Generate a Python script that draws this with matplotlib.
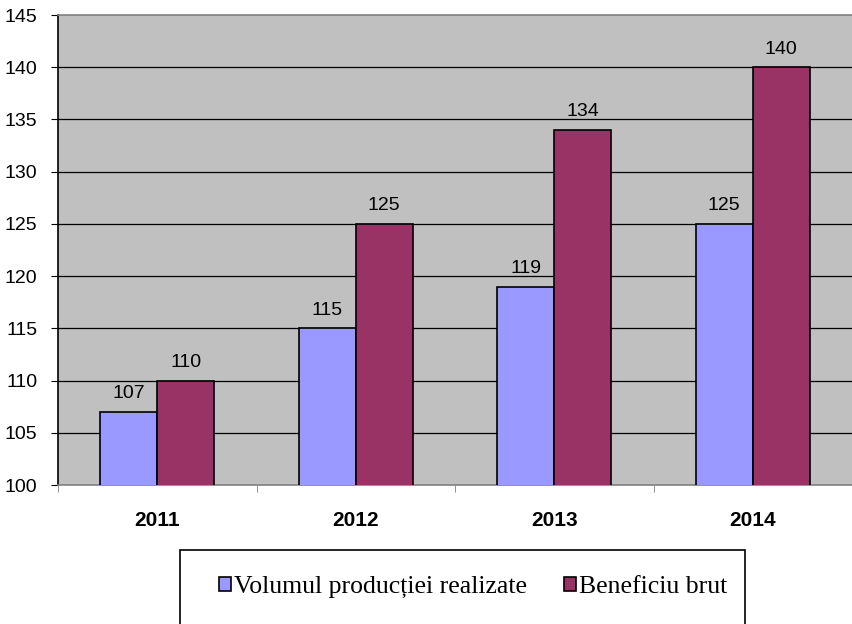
import numpy as np
import matplotlib
matplotlib.use("Agg")
import matplotlib.pyplot as plt
from matplotlib.patches import Rectangle

years = ["2011", "2012", "2013", "2014"]
volum = [107, 115, 119, 125]
beneficiu = [110, 125, 134, 140]
series_names = ["Volumul producției realizate", "Beneficiu brut"]
yticks = list(range(100, 150, 5))

fig = plt.figure(figsize=(8.52, 6.24), dpi=100)
ax = fig.add_axes([58 / 852, 1 - 485 / 624, (852 - 58) / 852, (485 - 15) / 624])
ax.set_facecolor("#C0C0C0")

x = np.arange(len(years))
w = 0.287
b1 = ax.bar(x - w / 2, volum, w, bottom=0, color="#9999FF", edgecolor="black", linewidth=1.2, zorder=3)
b2 = ax.bar(x + w / 2, beneficiu, w, bottom=0, color="#993366", edgecolor="black", linewidth=1.2, zorder=3)

for bars, vals in ((b1, volum), (b2, beneficiu)):
    for r, v in zip(bars, vals):
        ax.annotate(str(v), (r.get_x() + r.get_width() / 2, v), xytext=(0, 7),
                    textcoords="offset points", ha="center", va="bottom",
                    fontsize=14, family="Liberation Sans")

ax.set_ylim(100, 145)
ax.set_xlim(-0.5, 3.5)
ax.set_yticks(yticks)
ax.set_yticklabels([str(t) for t in yticks], family="Liberation Sans", fontsize=14)
for t in yticks[1:-1]:
    ax.axhline(t, color="black", linewidth=0.9, zorder=1)

ax.set_xticks(x)
ax.set_xticklabels(years, family="Liberation Sans", fontsize=15, fontweight="bold")
ax.tick_params(axis="x", which="major", length=0, pad=19)
ax.set_xticks(np.arange(-0.5, 4, 1), minor=True)
ax.tick_params(axis="x", which="minor", length=5, color="#808080", direction="out")
ax.tick_params(axis="y", length=5, color="black", pad=10, direction="out")

ax.spines["left"].set_color("black")
ax.spines["left"].set_linewidth(1.2)
ax.spines["bottom"].set_color("#808080")
ax.spines["bottom"].set_linewidth(1.2)
ax.spines["top"].set_color("#808080")
ax.spines["top"].set_linewidth(1.2)
ax.spines["right"].set_visible(False)

# legend box below the chart
box = Rectangle((180 / 852, -0.05), (745 - 180) / 852, (624 - 550) / 624 + 0.05,
                transform=fig.transFigure, fill=False, edgecolor="black", linewidth=1.2, clip_on=False)
fig.patches.append(box)
leg = fig.legend([b1, b2], series_names, loc="center", bbox_to_anchor=(473 / 852, 1 - 587 / 624),
                 ncol=2, frameon=False, prop={"family": "Liberation Serif", "size": 18.5},
                 handlelength=0.45, handleheight=0.45, handletextpad=0.12, columnspacing=1.45)

fig.savefig("out.png", dpi=100)
